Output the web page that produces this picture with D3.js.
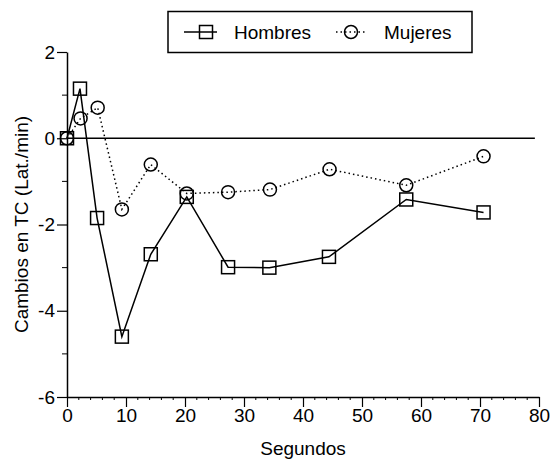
<!DOCTYPE html>
<html>
<head>
<meta charset="utf-8">
<script src="https://cdn.jsdelivr.net/npm/d3@7"></script>
<style>
  body { margin: 0; background: #fff; }
  text { font-family: "Liberation Sans", Arial, sans-serif; fill: #000; }
</style>
</head>
<body>
<div id="chart"></div>
<script>
// datos
const segundosH = [0, 2.2, 5.1, 9.3, 14.2, 20.3, 27.3, 34.3, 44.4, 57.5, 70.6];
const hombres   = [0, 1.15, -1.85, -4.6, -2.69, -1.36, -2.99, -3.0, -2.75, -1.42, -1.72];
const segundosM = [0, 2.3, 5.2, 9.3, 14.2, 20.3, 27.3, 34.4, 44.5, 57.5, 70.6];
const mujeres   = [0, 0.46, 0.71, -1.65, -0.61, -1.28, -1.25, -1.19, -0.72, -1.09, -0.42];
const xTicks = [0, 10, 20, 30, 40, 50, 60, 70, 80];
const yTicks = [2, 0, -2, -4, -6];
const seriesNames = ["Hombres", "Mujeres"];

const width = 555, height = 461;
const margin = { top: 52, right: 16, bottom: 64, left: 67 };

const svg = d3.select("#chart").append("svg")
  .attr("width", width).attr("height", height);

const x = d3.scaleLinear().domain([0, 80]).range([margin.left, width - margin.right]);
const y = d3.scaleLinear().domain([-6, 2]).range([height - margin.bottom, margin.top]);

const fs = "19px";

// eje X
const xAxis = svg.append("g")
  .attr("transform", `translate(0,${y(-6)})`)
  .call(d3.axisBottom(x).tickValues(xTicks).tickFormat(d => String(d))
    .tickSize(10).tickPadding(2).tickSizeOuter(0));
xAxis.append("g").selectAll("line")
  .data(d3.range(0, 81, 2).filter(d => d % 10 !== 0))
  .join("line")
  .attr("x1", d => x(d)).attr("x2", d => x(d))
  .attr("y1", 0).attr("y2", 3)
  .attr("stroke", "#000").attr("stroke-width", 1);

// eje Y
const yAxis = svg.append("g")
  .attr("transform", `translate(${x(0)},0)`)
  .call(d3.axisLeft(y).tickValues(yTicks).tickFormat(d => String(d))
    .tickSize(10).tickPadding(2).tickSizeOuter(0));
yAxis.append("g").selectAll("line")
  .data([1, -1, -3, -5])
  .join("line")
  .attr("x1", -5).attr("x2", 0)
  .attr("y1", d => y(d)).attr("y2", d => y(d))
  .attr("stroke", "#000").attr("stroke-width", 1);

svg.selectAll(".domain").attr("stroke-width", 1.5);
svg.selectAll(".tick line").attr("stroke", "#000").attr("stroke-width", 1.2);
svg.selectAll(".tick text").style("font-size", fs).attr("font-family", null);

// linea cero
svg.append("line")
  .attr("x1", x(0)).attr("x2", x(79.3))
  .attr("y1", y(0)).attr("y2", y(0))
  .attr("stroke", "#000").attr("stroke-width", 1.5);

// titulos de ejes
svg.append("text")
  .attr("x", x(40)).attr("y", 455)
  .attr("text-anchor", "middle").style("font-size", fs)
  .text("Segundos");
svg.append("text")
  .attr("transform", `translate(28,${(y(2) + y(-6)) / 2}) rotate(-90)`)
  .attr("text-anchor", "middle").style("font-size", fs)
  .text("Cambios en TC (Lat./min)");

// series
const line = d3.line().x(d => x(d[0])).y(d => y(d[1]));
const dataH = segundosH.map((s, i) => [s, hombres[i]]);
const dataM = segundosM.map((s, i) => [s, mujeres[i]]);

svg.append("path").datum(dataM)
  .attr("d", line).attr("fill", "none")
  .attr("stroke", "#000").attr("stroke-width", 1.5)
  .attr("stroke-dasharray", "1.5,3");
svg.append("path").datum(dataH)
  .attr("d", line).attr("fill", "none")
  .attr("stroke", "#000").attr("stroke-width", 1.5);

const sq = 13;
svg.append("g").selectAll("rect").data(dataH).join("rect")
  .attr("x", d => x(d[0]) - sq / 2).attr("y", d => y(d[1]) - sq / 2)
  .attr("width", sq).attr("height", sq)
  .attr("fill", "none").attr("stroke", "#000").attr("stroke-width", 1.5);
svg.append("g").selectAll("circle").data(dataM).join("circle")
  .attr("cx", d => x(d[0])).attr("cy", d => y(d[1])).attr("r", 6.5)
  .attr("fill", "none").attr("stroke", "#000").attr("stroke-width", 1.5);

// leyenda
const lg = svg.append("g");
lg.append("rect")
  .attr("x", 168).attr("y", 11.5).attr("width", 304).attr("height", 41)
  .attr("fill", "#fff").attr("stroke", "#000").attr("stroke-width", 1.5);
lg.append("line").attr("x1", 184).attr("x2", 217).attr("y1", 32).attr("y2", 32)
  .attr("stroke", "#000").attr("stroke-width", 1.5);
lg.append("rect").attr("x", 206 - sq / 2).attr("y", 32 - sq / 2)
  .attr("width", sq).attr("height", sq)
  .attr("fill", "none").attr("stroke", "#000").attr("stroke-width", 1.5);
lg.append("line").attr("x1", 336).attr("x2", 367).attr("y1", 32).attr("y2", 32)
  .attr("stroke", "#000").attr("stroke-width", 1.5).attr("stroke-dasharray", "1.5,3");
lg.append("circle").attr("cx", 351).attr("cy", 32).attr("r", 6.5)
  .attr("fill", "none").attr("stroke", "#000").attr("stroke-width", 1.5);
lg.selectAll(".lbl").data(seriesNames).join("text")
  .attr("x", (d, i) => i === 0 ? 234 : 384).attr("y", 39)
  .style("font-size", fs)
  .text(d => d);
</script>
</body>
</html>
